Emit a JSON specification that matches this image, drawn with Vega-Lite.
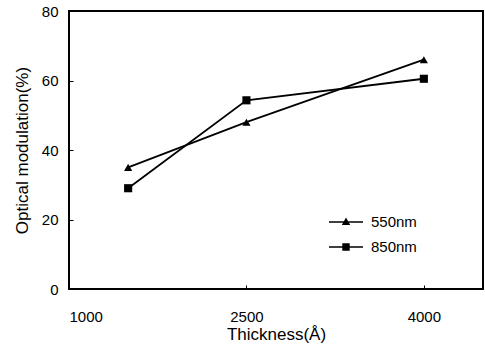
{
  "$schema": "https://vega.github.io/schema/vega-lite/v6.json",
  "width": 414,
  "height": 278,
  "autosize": {"type": "none"},
  "padding": {"left": 69, "top": 11, "right": 2, "bottom": 62},
  "background": "white",
  "config": {
    "view": {"stroke": "black", "strokeWidth": 2},
    "axis": {
      "grid": false,
      "domain": false,
      "labelColor": "black",
      "titleColor": "black",
      "labelFont": "Liberation Sans",
      "titleFont": "Liberation Sans",
      "titleFontWeight": "normal",
      "labelFontSize": 15,
      "titleFontSize": 17,
      "tickColor": "black",
      "tickSize": -4,
      "tickWidth": 1,
      "format": "d"
    }
  },
  "data": {
    "values": [
      {"thickness": 1500, "value": 35, "series": "550nm"},
      {"thickness": 2500, "value": 48, "series": "550nm"},
      {"thickness": 4000, "value": 66, "series": "550nm"},
      {"thickness": 1500, "value": 29, "series": "850nm"},
      {"thickness": 2500, "value": 54.3, "series": "850nm"},
      {"thickness": 4000, "value": 60.5, "series": "850nm"}
    ]
  },
  "encoding": {
    "x": {
      "field": "thickness",
      "type": "quantitative",
      "scale": {"domain": [1000, 4500], "nice": false},
      "axis": {"values": [1000, 2500, 4000], "title": "Thickness(Å)", "labelPadding": 24, "titlePadding": 2}
    },
    "y": {
      "field": "value",
      "type": "quantitative",
      "scale": {"domain": [0, 80], "nice": false},
      "axis": {"values": [0, 20, 40, 60, 80], "title": "Optical modulation(%)", "labelPadding": 15, "titlePadding": 10}
    }
  },
  "layer": [
    {
      "mark": {"type": "line", "color": "black", "strokeWidth": 1.8},
      "encoding": {"detail": {"field": "series"}}
    },
    {
      "mark": {"type": "point", "filled": true, "color": "black", "opacity": 1, "size": 66},
      "encoding": {
        "shape": {
          "field": "series",
          "type": "nominal",
          "scale": {"domain": ["550nm", "850nm"], "range": ["triangle-up", "square"]},
          "legend": null
        }
      }
    },
    {
      "transform": [{"filter": "datum.value < 0"}],
      "mark": {"type": "point", "filled": true, "color": "black", "opacity": 1},
      "encoding": {
        "shape": {
          "field": "series",
          "type": "nominal",
          "scale": {"domain": ["550nm", "850nm"], "range": ["M-1.7,-0.08H1.7V0.08H-1.7ZM0,-0.45L0.42,0.3L-0.42,0.3Z", "M-1.7,-0.08H1.7V0.08H-1.7ZM-0.37,-0.37H0.37V0.37H-0.37Z"]},
          "legend": {
            "title": null,
            "orient": "none",
            "legendX": 266,
            "legendY": 200,
            "padding": 0,
            "symbolSize": 400,
            "symbolFillColor": "black",
            "symbolOpacity": 1,
            "labelOffset": 14,
            "rowPadding": 6,
            "labelFont": "Liberation Sans",
            "labelFontSize": 15,
            "labelColor": "black"
          }
        }
      }
    }
  ],
  "resolve": {"scale": {"shape": "independent"}, "legend": {"shape": "independent"}}
}
